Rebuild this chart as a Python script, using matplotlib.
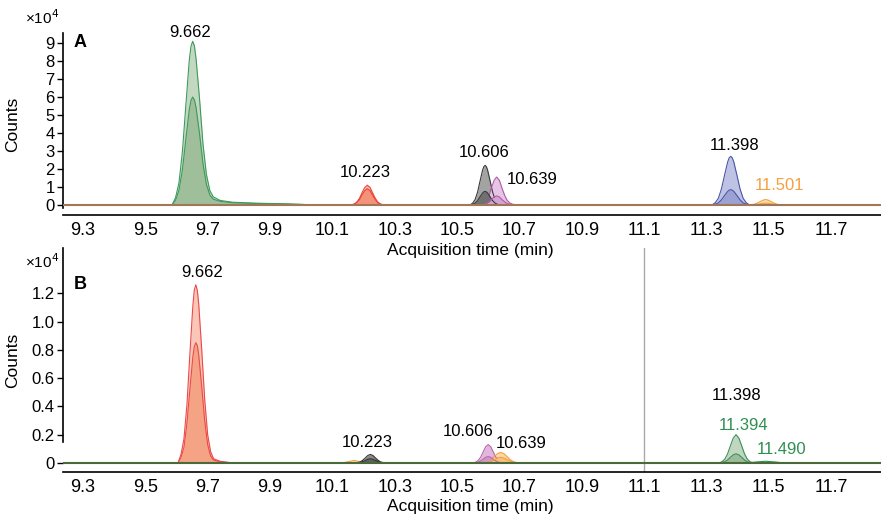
import matplotlib.pyplot as plt

plt.rcParams['font.family'] = ['Liberation Sans', 'DejaVu Sans']

# ---- Panel A traces (counts in units of 1e4) ----
a_green_t = [9.586, 9.597, 9.608, 9.619, 9.630, 9.641, 9.6465, 9.652, 9.6575, 9.663,
             9.674, 9.685, 9.696, 9.707, 9.718, 9.74, 9.78, 9.85, 9.95, 10.05]
a_green_outer = [0.0, 0.4, 1.23, 2.96, 5.52, 8.03, 8.82, 9.1, 8.85, 8.1,
                 5.9, 3.4, 1.7, 0.8, 0.45, 0.25, 0.15, 0.1, 0.06, 0.0]
a_green_inner = [0.0, 0.26, 0.81, 1.95, 3.64, 5.29, 5.81, 6.0, 5.84, 5.4,
                 3.95, 2.3, 1.15, 0.55, 0.32, 0.2, 0.12, 0.08, 0.05, 0.0]

a_red_t = [10.161, 10.170, 10.178, 10.187, 10.195, 10.204, 10.212, 10.221, 10.229,
           10.238, 10.246, 10.255, 10.263]
a_red_outer = [0.0, 0.05, 0.15, 0.36, 0.67, 0.97, 1.1, 0.97, 0.67, 0.36, 0.15, 0.05, 0.0]
a_red_inner = [0.0, 0.04, 0.12, 0.29, 0.55, 0.79, 0.9, 0.79, 0.55, 0.29, 0.12, 0.04, 0.0]

a_gray_t = [10.542, 10.550, 10.558, 10.566, 10.574, 10.582, 10.586, 10.590, 10.594,
            10.598, 10.606, 10.614, 10.622, 10.630, 10.638]
a_gray_outer = [0.0, 0.1, 0.3, 0.72, 1.34, 1.94, 2.13, 2.2, 2.13, 1.94, 1.34, 0.72, 0.3, 0.1, 0.0]
a_gray_inner = [0.0, 0.03, 0.1, 0.24, 0.46, 0.66, 0.73, 0.75, 0.73, 0.66, 0.46, 0.24, 0.1, 0.03, 0.0]

a_pink_t = [10.576, 10.585, 10.593, 10.602, 10.610, 10.619, 10.627, 10.636, 10.644,
            10.653, 10.661, 10.670, 10.678, 10.69]
a_pink_outer = [0.0, 0.07, 0.21, 0.5, 0.94, 1.37, 1.55, 1.37, 0.94, 0.52, 0.25, 0.1, 0.04, 0.0]
a_pink_inner = [0.0, 0.02, 0.07, 0.16, 0.3, 0.44, 0.5, 0.44, 0.3, 0.17, 0.08, 0.03, 0.01, 0.0]

a_blue_t = [11.318, 11.328, 11.338, 11.348, 11.358, 11.368, 11.373, 11.378, 11.383,
            11.388, 11.398, 11.408, 11.418, 11.428, 11.438]
a_blue_outer = [0.0, 0.12, 0.36, 0.88, 1.64, 2.38, 2.62, 2.7, 2.62, 2.38, 1.64, 0.88, 0.36, 0.12, 0.0]
a_blue_inner = [0.0, 0.04, 0.11, 0.28, 0.52, 0.75, 0.82, 0.85, 0.82, 0.75, 0.52, 0.28, 0.11, 0.04, 0.0]

a_orange_t = [11.436, 11.445, 11.454, 11.463, 11.472, 11.481, 11.490, 11.499, 11.508,
              11.517, 11.526, 11.535, 11.544]
a_orange_outer = [0.0, 0.01, 0.04, 0.1, 0.18, 0.26, 0.3, 0.26, 0.18, 0.1, 0.04, 0.01, 0.0]
a_orange_inner = [0.0, 0.0, 0.01, 0.03, 0.06, 0.09, 0.1, 0.09, 0.06, 0.03, 0.01, 0.0, 0.0]

# ---- Panel B traces ----
b_red_t = [9.605, 9.6145, 9.624, 9.6335, 9.643, 9.6525, 9.657, 9.662, 9.667, 9.6715,
           9.681, 9.6905, 9.700, 9.7095, 9.719, 9.74, 9.78]
b_red_outer = [0.0, 0.06, 0.17, 0.41, 0.77, 1.11, 1.22, 1.26, 1.22, 1.12,
               0.8, 0.45, 0.2, 0.08, 0.03, 0.012, 0.0]
b_red_inner = [0.0, 0.04, 0.11, 0.28, 0.52, 0.75, 0.82, 0.85, 0.83, 0.76,
               0.54, 0.3, 0.13, 0.05, 0.02, 0.008, 0.0]

b_gray_t = [10.174, 10.182, 10.190, 10.198, 10.206, 10.214, 10.222, 10.230, 10.238,
            10.246, 10.254, 10.262, 10.270]
b_gray_outer = [0.0, 0.003, 0.008, 0.02, 0.036, 0.053, 0.06, 0.053, 0.036, 0.02, 0.008, 0.003, 0.0]
b_gray_inner = [0.0, 0.001, 0.004, 0.01, 0.018, 0.026, 0.03, 0.026, 0.018, 0.01, 0.004, 0.001, 0.0]

b_pink_t = [10.552, 10.560, 10.568, 10.576, 10.584, 10.592, 10.600, 10.608, 10.616,
            10.624, 10.632, 10.640, 10.648]
b_pink_outer = [0.0, 0.006, 0.018, 0.042, 0.079, 0.115, 0.13, 0.115, 0.079, 0.042, 0.018, 0.006, 0.0]
b_pink_inner = [0.0, 0.002, 0.006, 0.015, 0.027, 0.04, 0.045, 0.04, 0.027, 0.015, 0.006, 0.002, 0.0]

b_orange_t = [10.580, 10.590, 10.600, 10.610, 10.620, 10.630, 10.640, 10.650, 10.660,
              10.670, 10.680, 10.690, 10.700]
b_orange_outer = [0.0, 0.003, 0.01, 0.024, 0.046, 0.066, 0.075, 0.066, 0.046, 0.024, 0.01, 0.003, 0.0]
b_orange_inner = [0.0, 0.002, 0.005, 0.013, 0.024, 0.035, 0.04, 0.035, 0.024, 0.013, 0.005, 0.002, 0.0]

b_orange_small_t = [10.13, 10.15, 10.17, 10.19, 10.21]
b_orange_small = [0.0, 0.008, 0.018, 0.008, 0.0]

b_green_t = [11.341, 11.350, 11.359, 11.368, 11.377, 11.386, 11.395, 11.404, 11.413,
             11.422, 11.431, 11.440, 11.449]
b_green_outer = [0.0, 0.009, 0.027, 0.065, 0.122, 0.176, 0.2, 0.176, 0.122, 0.065, 0.027, 0.009, 0.0]
b_green_inner = [0.0, 0.003, 0.009, 0.021, 0.04, 0.057, 0.065, 0.057, 0.04, 0.021, 0.009, 0.003, 0.0]

b_green_small_t = [11.43, 11.46, 11.49, 11.52, 11.55]
b_green_small = [0.0, 0.007, 0.012, 0.007, 0.0]

b_marker_time = 11.1

# ---- labels ----
a_labels = [('9.662', 9.643, 9.6, 'black'), ('10.223', 10.204, 1.78, 'black'),
            ('10.606', 10.588, 2.9, 'black'), ('10.639', 10.742, 1.44, 'black'),
            ('11.398', 11.39, 3.28, 'black'), ('11.501', 11.534, 1.1, '#f5a040')]
b_labels = [('9.662', 9.681, 1.35, 'black'), ('10.223', 10.213, 0.143, 'black'),
            ('10.606', 10.534, 0.22, 'black'), ('10.639', 10.707, 0.136, 'black'),
            ('11.398', 11.396, 0.48, 'black'), ('11.394', 11.419, 0.264, '#2e9050'),
            ('11.490', 11.54, 0.093, '#2e9050')]

xticks = [9.3, 9.5, 9.7, 9.9, 10.1, 10.3, 10.5, 10.7, 10.9, 11.1, 11.3, 11.5, 11.7]
a_yticks = [0, 1, 2, 3, 4, 5, 6, 7, 8, 9]
b_yticks = [0, 0.2, 0.4, 0.6, 0.8, 1.0, 1.2]
b_yticklabels = ['0', '0.2', '0.4', '0.6', '0.8', '1.0', '1.2']


def peak(ax, t, outer, inner, fill_o, fill_i, line):
    ax.fill_between(t, outer, 0, color=fill_o, lw=0, zorder=2)
    ax.plot(t, outer, color=line, lw=0.8, zorder=3, solid_joinstyle='round')
    if inner is not None:
        ax.fill_between(t, inner, 0, color=fill_i, lw=0, zorder=4)
        ax.plot(t, inner, color=line, lw=0.8, zorder=5, solid_joinstyle='round')


fig = plt.figure(figsize=(8.81, 5.19), dpi=100)
axA = fig.add_axes([63 / 881, 1 - 215 / 519, 1 - 63 / 881, 182 / 519])
axB = fig.add_axes([63 / 881, 1 - 472 / 519, 1 - 63 / 881, 224 / 519])
axB.patch.set_visible(False)

# panel A
peak(axA, a_green_t, a_green_outer, a_green_inner, '#c3d8c1', '#9fbf9b', '#3d9a5c')
peak(axA, a_red_t, a_red_outer, a_red_inner, '#f8b4a0', '#f4937a', '#e8453a')
peak(axA, a_gray_t, a_gray_outer, a_gray_inner, '#a3a3a3', '#707070', '#3a3a3a')
peak(axA, a_pink_t, a_pink_outer, a_pink_inner, '#e6c4e4', '#d4a4d0', '#b05aa8')
peak(axA, a_blue_t, a_blue_outer, a_blue_inner, '#bfc3e3', '#9ca1d3', '#4a55aa')
peak(axA, a_orange_t, a_orange_outer, a_orange_inner, '#fcdcb2', '#f8c890', '#f0a040')
axA.axhline(0, color='#a07858', lw=1.5, zorder=6)
axA.set_ylim(-0.56, 9.56)
axA.set_yticks(a_yticks)
for txt, x, y, c in a_labels:
    axA.text(x, y, txt, color=c, fontsize=12, ha='center', va='center')
axA.text(9.29, 9.05, 'A', fontsize=13, fontweight='bold', ha='center', va='center')
axA.spines['left'].set_bounds(-0.15, 9.56)

# panel B
peak(axB, b_orange_small_t, b_orange_small, None, '#fcdcb2', None, '#f0a040')
peak(axB, b_red_t, b_red_outer, b_red_inner, '#f9c6b8', '#f4a484', '#ec4a4a')
peak(axB, b_gray_t, b_gray_outer, b_gray_inner, '#8a8a8a', '#606060', '#333333')
peak(axB, b_pink_t, b_pink_outer, b_pink_inner, '#e2b6de', '#cf96c8', '#b86aa8')
peak(axB, b_orange_t, b_orange_outer, b_orange_inner, '#fcd7a8', '#f8c080', '#f0a040')
peak(axB, b_green_t, b_green_outer, b_green_inner, '#c0d6bf', '#9cbb98', '#3d8f5a')
peak(axB, b_green_small_t, b_green_small, None, '#9cbb98', None, '#2e9050')
axB.axhline(0, color='#4a6a3a', lw=1.5, zorder=6)
axB.axvline(b_marker_time, color='#aaaaaa', lw=1, zorder=1)
axB.set_ylim(-0.064, 1.52)
axB.set_yticks(b_yticks)
axB.set_yticklabels(b_yticklabels)
for txt, x, y, c in b_labels:
    axB.text(x, y, txt, color=c, fontsize=12, ha='center', va='center')
axB.text(9.29, 1.26, 'B', fontsize=13, fontweight='bold', ha='center', va='center')
axB.spines['left'].set_bounds(0.15, 1.52)

for ax in (axA, axB):
    ax.set_xlim(9.236, 11.86)
    ax.set_xticks(xticks)
    ax.set_xticklabels([f'{v:.1f}' for v in xticks])
    ax.tick_params(axis='x', length=0, labelsize=13, pad=5)
    ax.tick_params(axis='y', length=4, width=1, labelsize=12, pad=2)
    ax.spines['top'].set_visible(False)
    ax.spines['right'].set_visible(False)
    ax.spines['left'].set_linewidth(1.2)
    ax.spines['bottom'].set_linewidth(1.2)
    ax.set_xlabel('Acquisition time (min)', fontsize=12.5)
    ax.set_ylabel('Counts', fontsize=12.5)
    ax.yaxis.set_label_coords(-0.052, 0.5)

axA.xaxis.set_label_coords((470 - 63) / 818, -(243 - 215) / 182)
axB.xaxis.set_label_coords((470 - 63) / 818, -(499 - 472) / 224)

fig.text(42 / 881, 1 - 18 / 519, '×10$^4$', fontsize=11, ha='center', va='center')
fig.text(42 / 881, 1 - 262 / 519, '×10$^4$', fontsize=11, ha='center', va='center')

fig.savefig('out.png', dpi=100)
